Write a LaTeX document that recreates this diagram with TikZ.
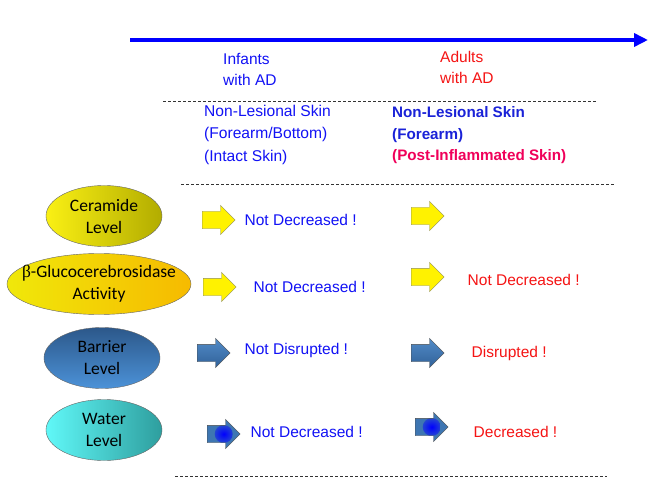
\documentclass[tikz,border=0pt]{standalone}
\usepackage{fontspec}
\setmainfont{Liberation Sans}
\newfontfamily\calibri{Carlito}
\newfontfamily\greekfont{Liberation Serif}
\usetikzlibrary{arrows.meta,shapes.geometric,shapes.arrows,positioning}

\definecolor{txtblue}{RGB}{18,18,245}
\definecolor{boldblue}{RGB}{26,34,216}
\definecolor{txtred}{RGB}{245,20,20}
\definecolor{txtpink}{RGB}{240,0,90}
\definecolor{steel}{RGB}{62,118,178}
\definecolor{steeldark}{RGB}{48,96,152}
\definecolor{steellight}{RGB}{82,140,200}

\begin{document}
\begin{tikzpicture}[x=1pt,y=-1pt,thin]
\tikzstyle{lbl}=[font=\fontsize{15.5}{21}\selectfont, align=left, inner sep=0pt, anchor=west]
\tikzstyle{oval}=[ellipse, draw=black!60, font=\calibri\fontsize{17.5}{22}\selectfont, align=center, inner sep=0pt, minimum width=116pt, minimum height=61pt]
\tikzstyle{blk}=[single arrow, single arrow head extend=6pt, inner xsep=0pt, inner ysep=8.5pt, minimum height=33pt, anchor=west]
\tikzstyle{yelarrow}=[blk, fill=yellow, draw={rgb,255:red,140;green,140;blue,90}]
\tikzstyle{bluarrow}=[blk, top color=steellight, bottom color=steeldark, draw=black!70]
\tikzstyle{dotarrow}=[blk, fill=steel, draw=black!70,
  path picture={\shade[inner color=blue, outer color=steel] (path picture bounding box.center) circle (9pt);}]
\tikzstyle{sep}=[dash pattern=on 3pt off 2pt, line width=1pt, black!80]

\useasboundingbox[fill=white] (0,0) rectangle (661,489);

% time axis
\coordinate (t0) at (130,40);
\coordinate (t1) at (648,40);
\draw[line width=4pt, blue, -{Triangle[length=14pt,width=13pt]}] (t0) -- (t1);

\node[lbl, txtblue] (inf) at (223,69.5) {Infants\\with AD};
\node[lbl, txtred]  (adu) at (440,67.5) {Adults\\with AD};

\coordinate (s1a) at (163,102);
\coordinate (s1b) at (596,102);
\draw[sep] (s1a) -- (s1b);

\node[lbl, txtblue, font=\fontsize{15.6}{22.5}\selectfont] (hd1) at (204,134.5)
  {Non-Lesional Skin\\(Forearm/Bottom)\\(Intact Skin)};
\node[lbl, boldblue, font=\bfseries\fontsize{15.2}{21.5}\selectfont] (hd2) at (392,135.5)
  {Non-Lesional Skin\\(Forearm)\\{\color{txtpink}(Post-Inflammated Skin)}};

\coordinate (s2a) at (181,185);
\coordinate (s2b) at (614,185);
\draw[sep] (s2a) -- (s2b);

% parameters
\node[oval, left color={rgb,255:red,250;green,240;blue,20}, right color={rgb,255:red,178;green,172;blue,0}]
  (cer) at (104,216) {Ceramide\\Level};
\node[oval, minimum width=184pt, inner xsep=-16pt, left color={rgb,255:red,240;green,232;blue,10}, right color={rgb,255:red,246;green,186;blue,0}]
  (glu) at (99,284) {{\greekfont β}-Glucocerebrosidase\\Activity};
\node[oval, top color={rgb,255:red,44;green,88;blue,138}, bottom color={rgb,255:red,76;green,146;blue,216}]
  (bar) at (102,358) {Barrier\\Level};
\node[oval, left color={rgb,255:red,96;green,248;blue,248}, right color={rgb,255:red,46;green,158;blue,158}]
  (wat) at (104,430) {Water\\Level};

% infants
\node[yelarrow] (a1) at (202,220) {};
\node[yelarrow] (a2) at (203,287) {};
\node[bluarrow] (a3) at (197,353) {};
\node[dotarrow] (a4) at (207,434) {};
\node[lbl, txtblue, right=9pt of a1] (r1) {Not Decreased !};
\node[lbl, txtblue, right=17pt of a2] (r2) {Not Decreased !};
\node[lbl, txtblue, right=14pt of a3, yshift=3pt] (r3) {Not Disrupted !};
\node[lbl, txtblue, right=10pt of a4, yshift=2pt] (r4) {Not Decreased !};

% adults
\node[yelarrow] (b1) at (411,216) {};
\node[yelarrow] (b2) at (411,277) {};
\node[bluarrow] (b3) at (411,353) {};
\node[dotarrow] (b4) at (415,427) {};
\node[lbl, txtred, right=23pt of b2, yshift=-3pt] (q2) {Not Decreased !};
\node[lbl, txtred, right=27pt of b3] (q3) {Disrupted !};
\node[lbl, txtred, right=25pt of b4, yshift=-5pt] (q4) {Decreased !};

\coordinate (s3a) at (175,476);
\coordinate (s3b) at (607,476);
\draw[sep] (s3a) -- (s3b);
\end{tikzpicture}
\end{document}
